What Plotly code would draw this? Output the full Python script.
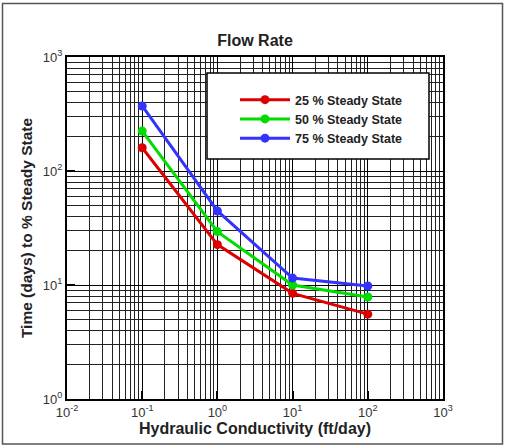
import plotly.graph_objects as go

conductivity = [0.1, 1, 10, 100]
ss25 = [160, 22.6, 8.45, 5.55]
ss50 = [224, 29.4, 10.0, 7.85]
ss75 = [372, 44.6, 11.5, 9.8]
series_names = ["25 % Steady State", "50 % Steady State", "75 % Steady State"]
series_colors = ["#dd0000", "#00dd00", "#3333ff"]
x_tickvals = [0.01, 0.1, 1, 10, 100, 1000]
x_ticktext = ["10<sup>-2</sup>", "10<sup>-1</sup>", "10<sup>0</sup>", "10<sup>1</sup>", "10<sup>2</sup>", "10<sup>3</sup>"]
y_tickvals = [1, 10, 100, 1000]
y_ticktext = ["10<sup>0</sup>", "10<sup>1</sup>", "10<sup>2</sup>", "10<sup>3</sup>"]

fig = go.Figure()
for name, ys, col in zip(series_names, [ss25, ss50, ss75], series_colors):
    fig.add_trace(go.Scatter(x=conductivity, y=ys, name="<b>" + name + "</b>", mode="lines+markers",
                             line=dict(color=col, width=3), marker=dict(color=col, size=9)))

font_family = "Liberation Sans, Arial, sans-serif"
axis_common = dict(
    type="log", showgrid=True, gridcolor="black", gridwidth=1.3,
    showline=True, linecolor="black", linewidth=2, mirror=True,
    ticks="inside", ticklen=8, tickcolor="black", tickwidth=1.5,
    zeroline=False,
    tickfont=dict(family=font_family, size=13, color="#333"),
    minor=dict(showgrid=True, gridcolor="#222", gridwidth=1, dtick="D1", ticks=""),
)
fig.update_xaxes(range=[-2, 3], tickvals=x_tickvals, ticktext=x_ticktext,
                 title=dict(text="<b>Hydraulic Conductivity (ft/day)</b>",
                 font=dict(family=font_family, size=16, color="#222"), standoff=4), **axis_common)
fig.update_yaxes(range=[0, 3], tickvals=y_tickvals, ticktext=y_ticktext,
                 title=dict(text="<b>Time (days) to % Steady State</b>",
                 font=dict(family=font_family, size=15.5, color="#222"), standoff=6), **axis_common)

# legend box (drawn as a shape), legend itself transparent on top
lx0, lx1, ly0, ly1 = 207, 429, 73, 159
fig.add_shape(type="rect", xref="paper", yref="paper",
              x0=(lx0 - 67) / 376, x1=(lx1 - 67) / 376,
              y0=(399 - ly1) / 342, y1=(399 - ly0) / 342,
              line=dict(color="black", width=1.5), fillcolor="white", layer="above")

fig.update_layout(
    width=505, height=446,
    margin=dict(l=67, r=62, t=57, b=47),
    paper_bgcolor="white", plot_bgcolor="white",
    title=dict(text="<b>Flow Rate</b>", x=0.5, xref="paper", y=1, yref="paper",
               yanchor="bottom", pad=dict(b=11),
               font=dict(family=font_family, size=16, color="#222")),
    legend=dict(x=(235 - 67) / 376, y=(399 - 119) / 342, xanchor="left", yanchor="middle",
                bgcolor="rgba(0,0,0,0)", borderwidth=0,
                font=dict(family=font_family, size=12.5, color="#222"),
                itemwidth=50, tracegroupgap=0),
    showlegend=True,
)
# outer frame around whole figure
fig.add_shape(type="rect", xref="paper", yref="paper",
              x0=(2.5 - 67) / 376, x1=(502.5 - 67) / 376,
              y0=(399 - 444) / 342, y1=(399 - 3.5) / 342,
              line=dict(color="#555", width=1.5), fillcolor="rgba(0,0,0,0)", layer="above")

fig.write_html("out.html")
